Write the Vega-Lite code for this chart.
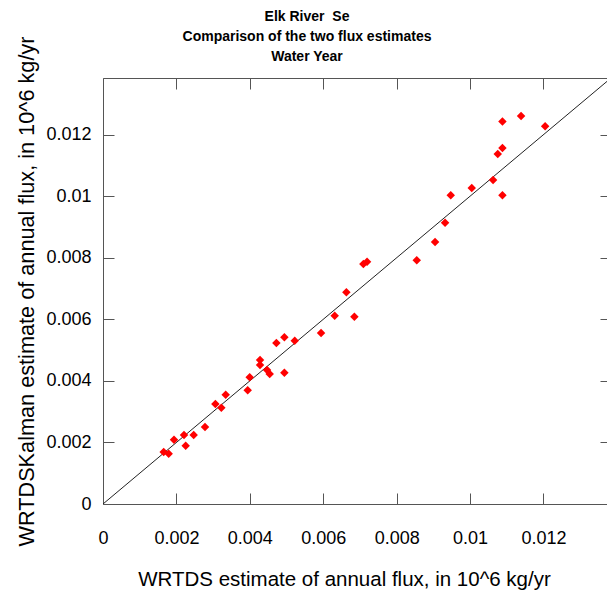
{
  "$schema": "https://vega.github.io/schema/vega-lite/v6.json",
  "autosize": "none",
  "width": 504,
  "height": 426,
  "padding": {"left": 103, "top": 78, "right": 0, "bottom": 94},
  "background": "white",
  "config": {
    "view": {"stroke": null},
    "font": "Liberation Sans",
    "axis": {"grid": false, "domainColor": "#555", "tickColor": "#555", "labelColor": "#000", "titleColor": "#000", "labelFont": "Liberation Sans", "titleFont": "Liberation Sans", "labelFontSize": 18, "titleFontSize": 20.5, "titleFontWeight": "normal", "domainWidth": 1, "tickWidth": 1, "labelFlush": false}
  },
  "title": {
    "text": ["Elk River \u00a0Se", "Comparison of the two flux estimates", "Water Year"],
    "font": "Liberation Sans",
    "fontSize": 14,
    "fontWeight": "bold",
    "color": "#000",
    "lineHeight": 20,
    "anchor": "middle",
    "frame": "group",
    "baseline": "bottom",
    "offset": -42,
    "dx": -48
  },
  "datasets": {
    "flux": [
      {"wrtds": 0.001653, "kalman": 0.001690},
      {"wrtds": 0.001789, "kalman": 0.001635},
      {"wrtds": 0.001935, "kalman": 0.002090},
      {"wrtds": 0.002207, "kalman": 0.002242},
      {"wrtds": 0.002252, "kalman": 0.001895},
      {"wrtds": 0.002470, "kalman": 0.002242},
      {"wrtds": 0.002779, "kalman": 0.002502},
      {"wrtds": 0.003061, "kalman": 0.003249},
      {"wrtds": 0.003224, "kalman": 0.003130},
      {"wrtds": 0.003342, "kalman": 0.003552},
      {"wrtds": 0.003942, "kalman": 0.003693},
      {"wrtds": 0.003996, "kalman": 0.004116},
      {"wrtds": 0.004278, "kalman": 0.004679},
      {"wrtds": 0.004278, "kalman": 0.004516},
      {"wrtds": 0.004469, "kalman": 0.004354},
      {"wrtds": 0.004541, "kalman": 0.004224},
      {"wrtds": 0.004941, "kalman": 0.004267},
      {"wrtds": 0.004723, "kalman": 0.005231},
      {"wrtds": 0.004941, "kalman": 0.005415},
      {"wrtds": 0.005223, "kalman": 0.005307},
      {"wrtds": 0.005940, "kalman": 0.005556},
      {"wrtds": 0.006312, "kalman": 0.006119},
      {"wrtds": 0.006630, "kalman": 0.006877},
      {"wrtds": 0.006848, "kalman": 0.006087},
      {"wrtds": 0.007093, "kalman": 0.007798},
      {"wrtds": 0.007193, "kalman": 0.007874},
      {"wrtds": 0.008547, "kalman": 0.007917},
      {"wrtds": 0.009046, "kalman": 0.008513},
      {"wrtds": 0.009319, "kalman": 0.009141},
      {"wrtds": 0.009473, "kalman": 0.010029},
      {"wrtds": 0.010045, "kalman": 0.010267},
      {"wrtds": 0.010627, "kalman": 0.010527},
      {"wrtds": 0.010881, "kalman": 0.010029},
      {"wrtds": 0.010754, "kalman": 0.011372},
      {"wrtds": 0.010881, "kalman": 0.011567},
      {"wrtds": 0.010881, "kalman": 0.012423},
      {"wrtds": 0.011389, "kalman": 0.012607},
      {"wrtds": 0.012044, "kalman": 0.012271}
    ],
    "diag": [
      {"wrtds": 0, "kalman": 0},
      {"wrtds": 0.0142, "kalman": 0.0142}
    ]
  },
  "resolve": {"axis": {"x": "independent", "y": "independent"}},
  "layer": [
    {
      "data": {"name": "diag"},
      "mark": {"type": "line", "color": "#222", "strokeWidth": 1, "clip": true},
      "encoding": {
        "x": {"field": "wrtds", "type": "quantitative",
          "scale": {"domain": [0, 0.01373], "nice": false, "zero": true},
          "axis": {"orient": "bottom", "values": [0, 0.002, 0.004, 0.006, 0.008, 0.01, 0.012], "format": "~g", "tickSize": -11, "labelPadding": 36, "title": "WRTDS estimate of annual flux, in 10^6 kg/yr", "titleX": 241, "titleY": 81, "titleBaseline": "alphabetic", "titleAlign": "center"}},
        "y": {"field": "kalman", "type": "quantitative",
          "scale": {"domain": [0, 0.01384], "nice": false, "zero": true},
          "axis": {"orient": "left", "values": [0, 0.002, 0.004, 0.006, 0.008, 0.01, 0.012], "format": "~g", "tickSize": -11, "labelPadding": 23, "title": "WRTDSKalman estimate of annual flux, in 10^6 kg/yr", "titleFontSize": 21.7, "titleX": -70, "titleBaseline": "alphabetic"}}
      }
    },
    {
      "data": {"name": "flux"},
      "mark": {"type": "point", "shape": "diamond", "filled": true, "color": "#ff0000", "opacity": 1, "size": 72},
      "encoding": {
        "x": {"field": "wrtds", "type": "quantitative",
          "axis": {"orient": "top", "values": [0, 0.002, 0.004, 0.006, 0.008, 0.01, 0.012], "labels": false, "tickSize": -11, "title": null}},
        "y": {"field": "kalman", "type": "quantitative",
          "axis": {"orient": "right", "values": [0, 0.002, 0.004, 0.006, 0.008, 0.01, 0.012], "labels": false, "domain": false, "tickSize": -7, "title": null}}
      }
    }
  ]
}
